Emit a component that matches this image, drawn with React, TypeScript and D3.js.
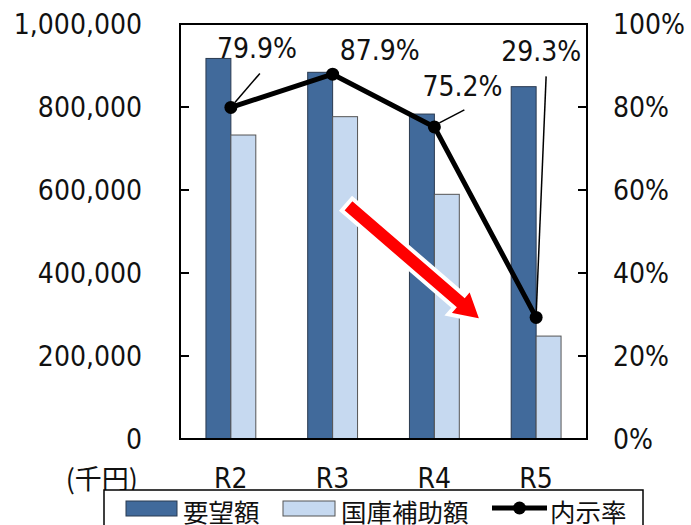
import React from "react";
import * as d3 from "d3";

const categories = ["R2", "R3", "R4", "R5"];
const requested = [917000, 883600, 783000, 849000];
const subsidy = [732500, 776700, 589600, 248000];
const rates = [0.799, 0.879, 0.752, 0.293];
const rateLabels = ["79.9%", "87.9%", "75.2%", "29.3%"];
const leftTicks = [0, 200000, 400000, 600000, 800000, 1000000];
const rightTicks = [0, 0.2, 0.4, 0.6, 0.8, 1.0];
const seriesNames = ["要望額", "国庫補助額", "内示率"];

const W = 691;
const H = 525;
const L = 180, R = 587, T = 24, B = 439;

const NUM_FONT = "'DejaVu Sans Condensed', 'DejaVu Sans', sans-serif";
const CJK_FONT = "'Noto Sans CJK JP', 'Noto Sans', sans-serif";
const DARK = "#416A9B";
const LIGHT = "#C6D9F0";
const FS = 28;

export default function App() {
  const x = d3.scaleBand<string>().domain(categories).range([L, R]).paddingInner(0).paddingOuter(0);
  const y = d3.scaleLinear().domain([0, 1000000]).range([B, T]);
  const y2 = d3.scaleLinear().domain([0, 1]).range([B, T]);
  const step = x.bandwidth();
  const barW = step * 0.245;
  const cx = (c: string) => (x(c) as number) + step / 2;
  const fmt = d3.format(",");
  const pct = d3.format(".0%");

  const linePath = d3
    .line<number>()
    .x((_, i) => cx(categories[i]))
    .y((d) => y2(d))(rates) as string;

  // label positions relative to point (offsets in px)
  const labelOffsets = [
    { dx: -14, dy: -49, lead: [[4, -5], [29, -34]] },
    { dx: 7, dy: -14, lead: null },
    { dx: -12, dy: -31, lead: [[5, -4], [30, -17]] },
    { dx: -35, dy: -256, lead: [[0, -2], [10, -241]] },
  ];

  // arrow annotation in data space: band fraction and value
  const bx = (f: number) => L + f * step;
  const tail = [bx(1.641), y(565000)];
  const tip = [bx(2.968), y(284300)];
  const ang = Math.atan2(tip[1] - tail[1], tip[0] - tail[0]);
  const len = Math.hypot(tip[0] - tail[0], tip[1] - tail[1]);
  const sw = 8;
  const hw = 17;
  const hl = 30;
  const pts = [
    [0, -sw],
    [len - hl, -sw],
    [len - hl, -hw],
    [len, 0],
    [len - hl, hw],
    [len - hl, sw],
    [0, sw],
  ].map(([u, v]) => [
    tail[0] + u * Math.cos(ang) - v * Math.sin(ang),
    tail[1] + u * Math.sin(ang) + v * Math.cos(ang),
  ]);
  const arrowPath = "M" + pts.map((p) => p.join(",")).join("L") + "Z";

  return (
    <svg
      width={W}
      height={H}
      style={{ position: "absolute", left: 0, top: 0, background: "#fff" }}
    >
      <rect x={0} y={0} width={W} height={H} fill="#fff" />
      {categories.map((c, i) => (
        <g key={c}>
          <rect
            x={cx(c) - barW}
            y={y(requested[i])}
            width={barW}
            height={B - y(requested[i])}
            fill={DARK}
            stroke="#2a3a50"
            strokeWidth={1}
          />
          <rect
            x={cx(c)}
            y={y(subsidy[i])}
            width={barW}
            height={B - y(subsidy[i])}
            fill={LIGHT}
            stroke="#555"
            strokeWidth={1}
          />
        </g>
      ))}
      <rect x={L} y={T} width={R - L} height={B - T} fill="none" stroke="#000" strokeWidth={2} />
      {leftTicks.map((t) => (
        <g key={t}>
          <line x1={L} x2={L + 9} y1={y(t)} y2={y(t)} stroke="#000" strokeWidth={2} />
          <line x1={R - 9} x2={R} y1={y(t)} y2={y(t)} stroke="#000" strokeWidth={2} />
          <text
            x={142}
            y={y(t)}
            textAnchor="end"
            dominantBaseline="central"
            fontFamily={NUM_FONT}
            fontSize={FS}
            fill="#111"
          >
            {fmt(t)}
          </text>
        </g>
      ))}
      {rightTicks.map((t) => (
        <text
          key={t}
          x={613}
          y={y2(t)}
          textAnchor="start"
          dominantBaseline="central"
          fontFamily={NUM_FONT}
          fontSize={FS}
          fill="#111"
        >
          {pct(t)}
        </text>
      ))}
      <path d={arrowPath} fill="#FF0000" stroke="#fff" strokeWidth={4} strokeLinejoin="miter" />
      <path d={linePath} fill="none" stroke="#000" strokeWidth={5} strokeLinejoin="round" />
      {rates.map((r, i) => (
        <circle key={i} cx={cx(categories[i])} cy={y2(r)} r={6.5} fill="#000" />
      ))}
      {rates.map((r, i) => {
        const px = cx(categories[i]);
        const py = y2(r);
        const o = labelOffsets[i];
        return (
          <g key={i}>
            {o.lead && (
              <line
                x1={px + o.lead[0][0]}
                y1={py + o.lead[0][1]}
                x2={px + o.lead[1][0]}
                y2={py + o.lead[1][1]}
                stroke="#000"
                strokeWidth={1.5}
              />
            )}
            <text x={px + o.dx} y={py + o.dy} fontFamily={NUM_FONT} fontSize={FS} fill="#111">
              {rateLabels[i]}
            </text>
          </g>
        );
      })}
      {categories.map((c) => (
        <text
          key={c}
          x={cx(c)}
          y={478}
          textAnchor="middle"
          dominantBaseline="central"
          fontFamily={NUM_FONT}
          fontSize={FS}
          fill="#111"
        >
          {c}
        </text>
      ))}
      <text
        x={138}
        y={477}
        textAnchor="end"
        dominantBaseline="central"
        fontFamily={CJK_FONT}
        fontSize={27}
        fill="#111"
      >
        (千円)
      </text>
      <rect x={104} y={490} width={539} height={50} fill="#fff" stroke="#000" strokeWidth={1.5} />
      <rect x={126} y={501} width={51} height={15} fill={DARK} stroke="#2a3a50" strokeWidth={1} />
      <text x={183} y={510} dominantBaseline="central" fontFamily={CJK_FONT} fontSize={25.5} fill="#111">
        {seriesNames[0]}
      </text>
      <rect x={283} y={501} width={52} height={15} fill={LIGHT} stroke="#555" strokeWidth={1} />
      <text x={341} y={510} dominantBaseline="central" fontFamily={CJK_FONT} fontSize={25.5} fill="#111">
        {seriesNames[1]}
      </text>
      <line x1={492} x2={547} y1={508} y2={508} stroke="#000" strokeWidth={5} />
      <circle cx={519.5} cy={508} r={6.5} fill="#000" />
      <text x={550} y={510} dominantBaseline="central" fontFamily={CJK_FONT} fontSize={25.5} fill="#111">
        {seriesNames[2]}
      </text>
    </svg>
  );
}
